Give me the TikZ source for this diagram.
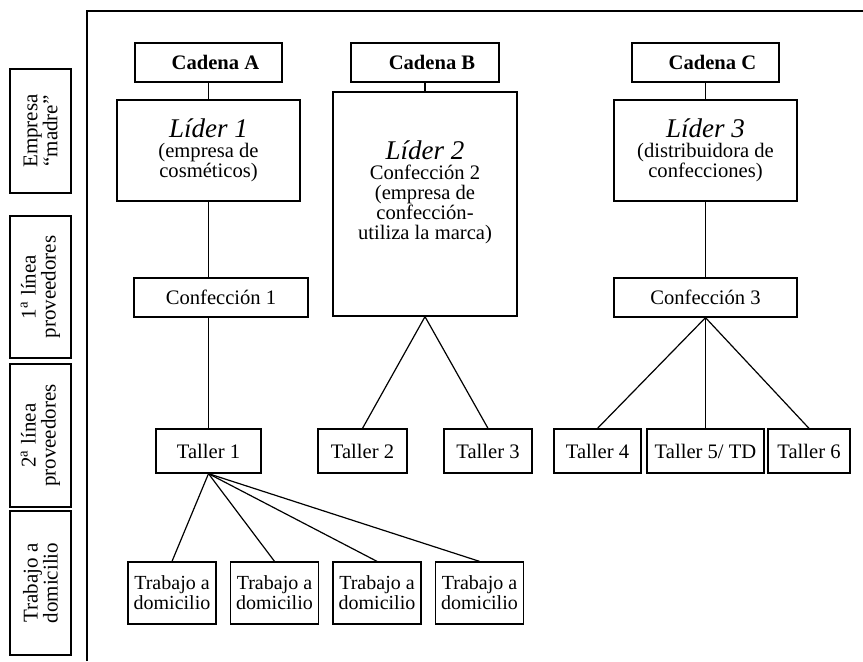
\documentclass[tikz,border=0pt]{standalone}
\usepackage{fontspec}
\setmainfont{Liberation Serif}
\newcommand{\lider}[1]{{\fontsize{13.5}{12}\selectfont\itshape #1}}
\tikzset{
    caja/.style={draw, line width=0.65pt, inner sep=0, align=center, font=\fontsize{10.3}{10}\selectfont},
    cadena/.style={caja, minimum height=19.5pt, font=\fontsize{10.3}{10}\selectfont\bfseries},
    taller/.style={caja, minimum height=22pt},
    nivel/.style={caja, rotate=90, minimum height=30.5pt, font=\fontsize{10.5}{10}\selectfont},
    domicilio/.style={caja, minimum width=44pt, minimum height=31pt, font=\fontsize{10}{9}\selectfont}
}

\begin{document}
\begin{tikzpicture}[x=0.5pt, y=-0.5pt, line width=0.6pt]
    \useasboundingbox (0,0) rectangle (863,661);
    \draw (87,661) -- (87,11) -- (863,11);

    % niveles de la cadena
    \node[nivel, minimum width=62pt] (n1) at (40.5,131) {Empresa\\“madre”};
    \node[nivel, minimum width=71pt] (n2) at (40.5,287) {1\textsuperscript{a} línea\\proveedores};
    \node[nivel, minimum width=71.5pt] (n3) at (40.5,435.5) {2\textsuperscript{a} línea\\proveedores};
    \node[nivel, minimum width=72pt] (n4) at (40.5,583) {Trabajo a\\domicilio};

    % cadena A
    \node[cadena, minimum width=73.5pt] (cadA) at (208.5,62.5) {\hspace*{7pt}Cadena A};
    \node[caja, minimum width=91.5pt, minimum height=50.5pt] (lidA) at (208.5,150.5)
        {\lider{Líder 1}\\(empresa de\\cosméticos)};
    \node[caja, minimum width=87pt, minimum height=19.5pt] (confA) at (221,297.5) {Confección 1};
    \node[taller, minimum width=52.5pt] (tal1) at (208.5,451) {Taller 1};
    \foreach \i/\x in {1/172,2/274.5,3/377,4/479.5}
        \node[domicilio] (dom\i) at (\x,593) {Trabajo a\\domicilio};

    % cadena B
    \node[cadena, minimum width=74pt] (cadB) at (425,62.5) {\hspace*{7pt}Cadena B};
    \node[caja, minimum width=92pt, minimum height=112pt] (lidB) at (425,204)
        {\lider{Líder 2}\\Confección 2\\(empresa de\\confección-\\utiliza la marca)\\[4pt]\mbox{}};
    \node[taller, minimum width=44.5pt] (tal2) at (362.5,451) {Taller 2};
    \node[taller, minimum width=44pt] (tal3) at (488,451) {Taller 3};

    % cadena C
    \node[cadena, minimum width=73.5pt] (cadC) at (705.5,62.5) {\hspace*{7pt}Cadena C};
    \node[caja, minimum width=91.5pt, minimum height=50.5pt] (lidC) at (705.5,150.5)
        {\lider{Líder 3}\\(distribuidora de\\confecciones)};
    \node[caja, minimum width=91.5pt, minimum height=19.5pt] (confC) at (705.5,297.5) {Confección 3};
    \node[taller, minimum width=43.5pt] (tal4) at (597.5,451) {Taller 4};
    \node[taller, minimum width=58.5pt] (tal5) at (705.5,451) {Taller 5/ TD};
    \node[taller, minimum width=41pt] (tal6) at (809,451) {Taller 6};

    % conexiones
    \draw (cadA) -- (lidA);
    \draw (lidA.south) -- (lidA.south |- confA.north);
    \draw (confA.south -| tal1.north) -- (tal1.north);
    \foreach \i in {1,...,4}
        \draw (tal1.south) -- (dom\i.north);
    \draw (cadB) -- (lidB);
    \draw (lidB.south) -- (tal2.north);
    \draw (lidB.south) -- (tal3.north);
    \draw (cadC) -- (lidC);
    \draw (lidC) -- (confC);
    \foreach \i in {4,5,6}
        \draw (confC.south) -- (tal\i.north);
\end{tikzpicture}
\end{document}
